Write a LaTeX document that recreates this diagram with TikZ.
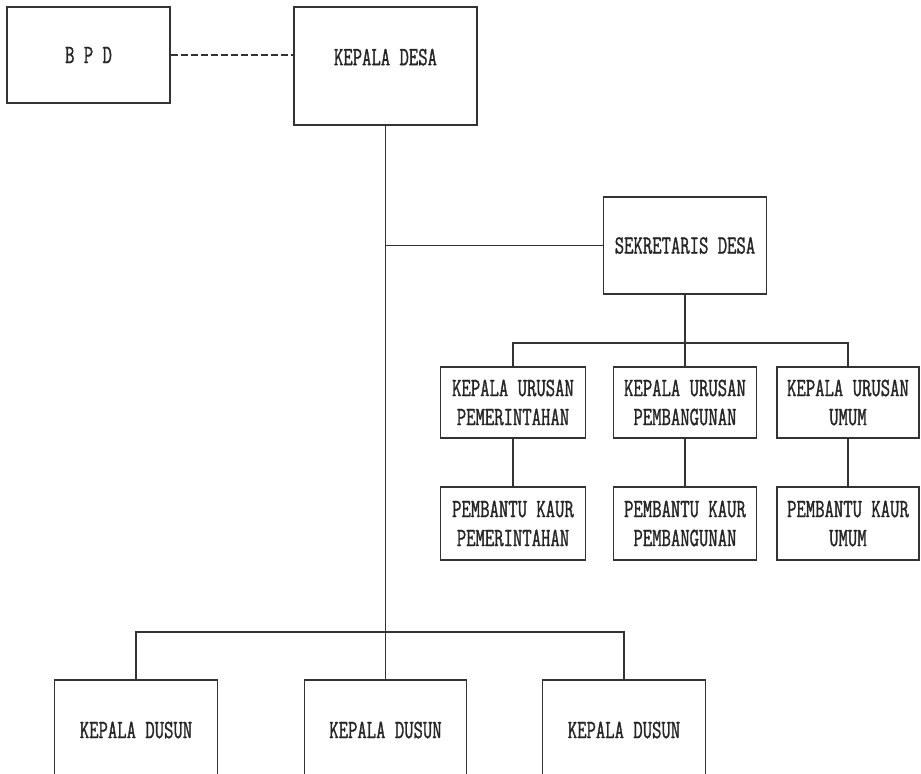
\documentclass[tikz,border=0pt]{standalone}
\usepackage{fontspec}
\usepackage{tikz}
\newfontfamily\dotfont[FakeStretch=0.69,FakeBold=1.2]{Latin Modern Mono}

\begin{document}
\begin{tikzpicture}[x=0.02cm,y=-0.02cm,
  box/.style={draw=black!80,line width=1pt,rectangle,inner sep=0pt,align=center,
    text=black!85,font=\dotfont\fontsize{15}{16.5}\selectfont},
  link/.style={draw=black!80,line width=1pt}]
\useasboundingbox (0,0) rectangle (921,774);
\clip (0,0) rectangle (921,774);

\node [box,minimum width=3.26cm,minimum height=1.92cm] (bpd) at (88.5,55) {B P D};
\node [box,minimum width=3.66cm,minimum height=2.36cm,text depth=0.36cm] (kades) at (385.5,66) {KEPALA DESA};
\node [box,minimum width=3.26cm,minimum height=1.94cm] (sekdes) at (685,245.5) {SEKRETARIS DESA};

\node [box,minimum width=2.9cm,minimum height=1.42cm] (kaur1) at (513,402.5) {KEPALA URUSAN\\PEMERINTAHAN};
\node [box,minimum width=2.86cm,minimum height=1.42cm] (kaur2) at (685,402.5) {KEPALA URUSAN\\PEMBANGUNAN};
\node [box,minimum width=2.84cm,minimum height=1.42cm] (kaur3) at (848,402.5) {KEPALA URUSAN\\UMUM};

\node [box,minimum width=2.9cm,minimum height=1.46cm] (pemb1) at (513,523.5) {PEMBANTU KAUR\\PEMERINTAHAN};
\node [box,minimum width=2.86cm,minimum height=1.46cm] (pemb2) at (685,523.5) {PEMBANTU KAUR\\PEMBANGUNAN};
\node [box,minimum width=2.84cm,minimum height=1.46cm] (pemb3) at (848,523.5) {PEMBANTU KAUR\\UMUM};

\node [box,minimum width=3.26cm,minimum height=2cm] (dusun1) at (136,730) {KEPALA DUSUN};
\node [box,minimum width=3.24cm,minimum height=2cm] (dusun2) at (385.5,730) {KEPALA DUSUN};
\node [box,minimum width=3.26cm,minimum height=2cm] (dusun3) at (624,730) {KEPALA DUSUN};

\coordinate (kbus) at (685,343);
\coordinate (dbus) at (385.5,632);

\draw [link,dash pattern=on 4pt off 1.7pt] (bpd.east) -- (bpd.east -| kades.west);
\draw [link] (kades.south) -- (dusun2.north);
\draw [link] (kades.south |- sekdes.west) -- (sekdes.west);
\draw [link] (sekdes.south) -- (kaur2.north);
\draw [link] (kaur1.north) -- (kaur1.north |- kbus) -| (kaur3.north);
\draw [link] (kaur1.south) -- (pemb1.north);
\draw [link] (kaur2.south) -- (pemb2.north);
\draw [link] (kaur3.south) -- (pemb3.north);
\draw [link] (dusun1.north) -- (dusun1.north |- dbus) -| (dusun3.north);

\end{tikzpicture}
\end{document}
